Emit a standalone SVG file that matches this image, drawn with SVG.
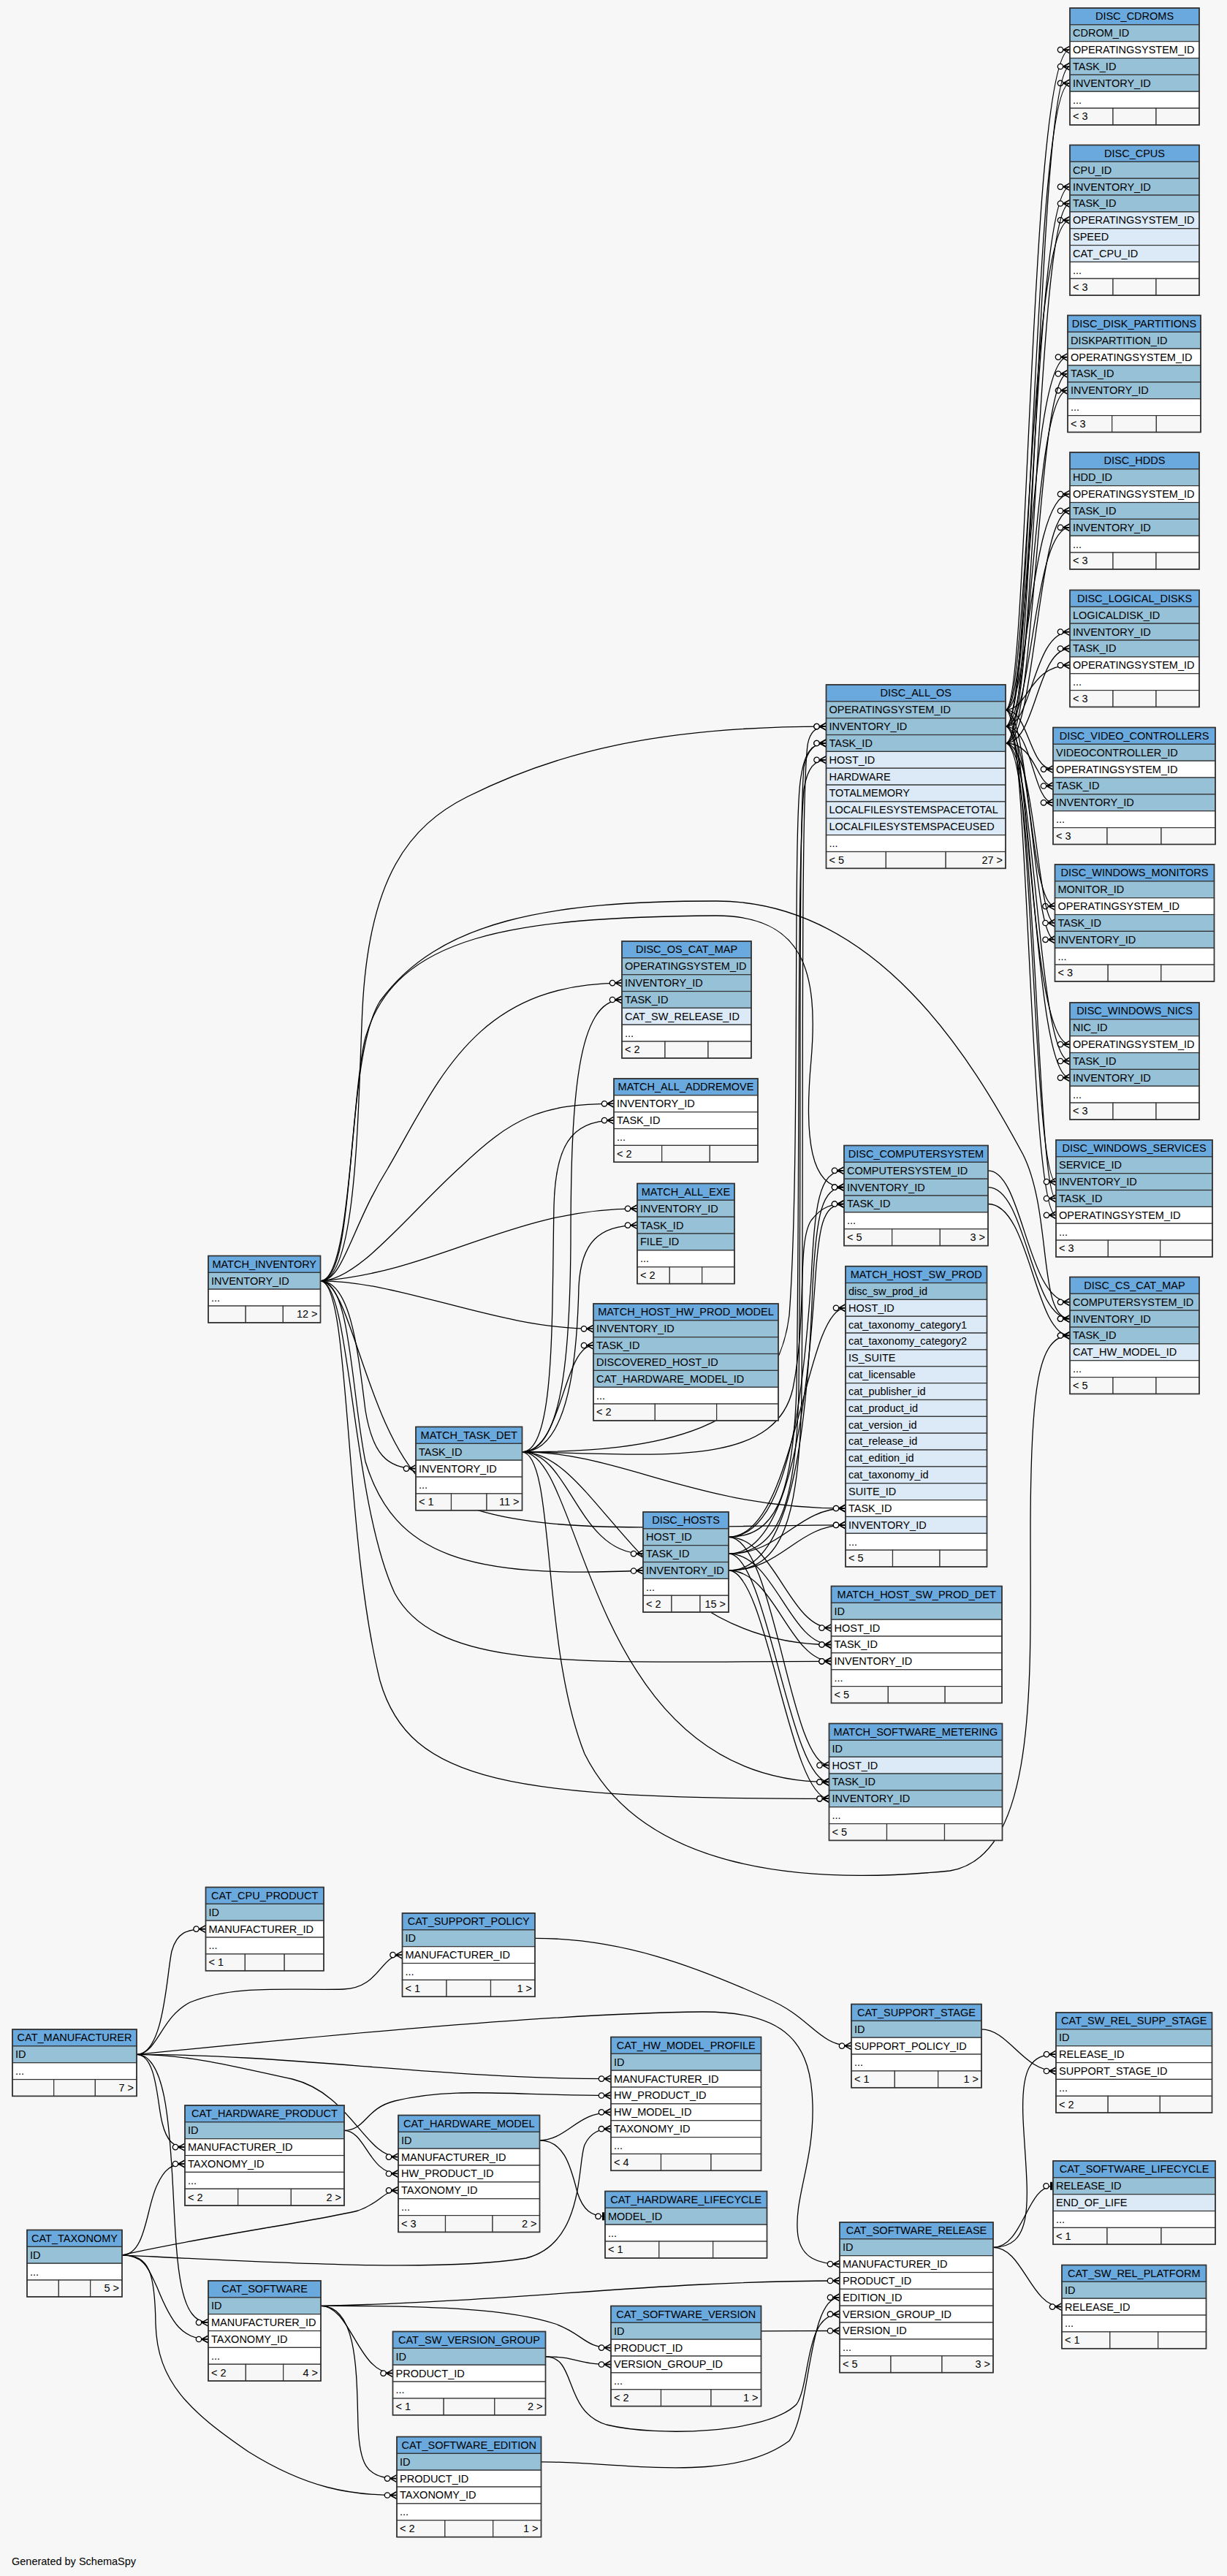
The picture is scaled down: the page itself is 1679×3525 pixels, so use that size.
<svg xmlns="http://www.w3.org/2000/svg" width="1679" height="3525" viewBox="0 0 1679 3525">
<style>
.h{fill:#6aa9de;stroke:#333;stroke-width:1.2}
.k{fill:#97c1d7;stroke:#333;stroke-width:1.2}
.l{fill:#dbeaf6;stroke:#333;stroke-width:1.2}
.w{fill:#ffffff;stroke:#333;stroke-width:1.2}
.f{fill:#f7f7f7;stroke:#333;stroke-width:1.2}
.o{fill:none;stroke:#333;stroke-width:1.6}
text{font-family:"Liberation Sans",Arial,Helvetica,sans-serif;font-size:14.5px;fill:#000}
.c{text-anchor:middle}
.r{text-anchor:end}
.e{fill:none;stroke:#000;stroke-width:1.3;marker-end:url(#crow)}
.et{fill:none;stroke:#000;stroke-width:1.3;marker-end:url(#tee)}
</style>
<defs>
<marker id="crow" viewBox="-18 -8 20 16" markerWidth="20" markerHeight="16" refX="0" refY="0" orient="auto" markerUnits="userSpaceOnUse">
<path d="M-9,0 L0,-5 M-9,0 L0,5 M-9,0 L0,0" fill="none" stroke="#000" stroke-width="1.6"/>
<circle cx="-13" cy="0" r="3.7" fill="#fff" stroke="#000" stroke-width="1.3"/>
</marker>
<marker id="tee" viewBox="-18 -8 20 16" markerWidth="20" markerHeight="16" refX="0" refY="0" orient="auto" markerUnits="userSpaceOnUse">
<path d="M-2.5,-5.5 L-2.5,5.5" fill="none" stroke="#000" stroke-width="3"/>
<circle cx="-9.5" cy="0" r="3.7" fill="#fff" stroke="#000" stroke-width="1.3"/>
</marker>
</defs>
<rect width="1679" height="3525" fill="#f7f7f7"/>

<g id="connectors">
<!-- DISC_ALL_OS.OPERATINGSYSTEM_ID -->
<path class="e" d="M1376,971.3 C1408,971.3 1408,68.1 1464,68.1"/>
<path class="e" d="M1376,971.3 C1408,971.3 1408,301.3 1464,301.3"/>
<path class="e" d="M1376,971.3 C1408,971.3 1408,488.6 1461,488.6"/>
<path class="e" d="M1376,971.3 C1408,971.3 1408,676.1 1464,676.1"/>
<path class="e" d="M1376,971.3 C1408,971.3 1408,910.3 1464,910.3"/>
<path class="e" d="M1376,971.3 C1408,971.3 1408,1052.6 1441,1052.6"/>
<path class="e" d="M1376,971.3 C1408,971.3 1408,1240.1 1443.5,1240.1"/>
<path class="e" d="M1376,971.3 C1408,971.3 1408,1429.1 1464,1429.1"/>
<path class="e" d="M1376,971.3 C1408,971.3 1408,1662.8 1445,1662.8"/>
<!-- DISC_ALL_OS.INVENTORY_ID -->
<path class="e" d="M1376,994.1 C1413,994.1 1413,113.8 1464,113.8"/>
<path class="e" d="M1376,994.1 C1413,994.1 1413,255.6 1464,255.6"/>
<path class="e" d="M1376,994.1 C1413,994.1 1413,534.3 1461,534.3"/>
<path class="e" d="M1376,994.1 C1413,994.1 1413,721.8 1464,721.8"/>
<path class="e" d="M1376,994.1 C1413,994.1 1413,864.6 1464,864.6"/>
<path class="e" d="M1376,994.1 C1413,994.1 1413,1098.3 1441,1098.3"/>
<path class="e" d="M1376,994.1 C1413,994.1 1413,1285.8 1443.5,1285.8"/>
<path class="e" d="M1376,994.1 C1413,994.1 1413,1474.8 1464,1474.8"/>
<path class="e" d="M1376,994.1 C1413,994.1 1413,1617.1 1445,1617.1"/>
<!-- DISC_ALL_OS.TASK_ID -->
<path class="e" d="M1376,1017 C1418,1017 1418,91 1464,91"/>
<path class="e" d="M1376,1017 C1418,1017 1418,278.5 1464,278.5"/>
<path class="e" d="M1376,1017 C1418,1017 1418,511.5 1461,511.5"/>
<path class="e" d="M1376,1017 C1418,1017 1418,699 1464,699"/>
<path class="e" d="M1376,1017 C1418,1017 1418,887.5 1464,887.5"/>
<path class="e" d="M1376,1017 C1418,1017 1418,1075.5 1441,1075.5"/>
<path class="e" d="M1376,1017 C1418,1017 1418,1263 1443.5,1263"/>
<path class="e" d="M1376,1017 C1418,1017 1418,1452 1464,1452"/>
<path class="e" d="M1376,1017 C1418,1017 1418,1640 1445,1640"/>
<!-- MATCH_INVENTORY.INVENTORY_ID -->
<path class="e" d="M438.5,1752.8 C490,1752.8 490,1500 496,1380 C505,1200 560,1130 640,1090 C760,1030 900,994.1 1130.5,994.1"/>
<path class="e" d="M438.5,1752.8 C470,1752.8 480,1680 530,1600 C600,1480 650,1345.1 851,1345.1"/>
<path class="e" d="M438.5,1752.8 C490,1752.8 560,1660 630,1597 C700,1530 740,1510.3 840,1510.3"/>
<path class="e" d="M438.5,1752.8 C600,1740 700,1653.8 872,1653.8"/>
<path class="e" d="M438.5,1752.8 C550,1752.8 680,1818.3 812,1818.3"/>
<path class="e" d="M438.5,1752.8 C480,1752.8 490,1850 500,1930 C510,1990 530,2009.6 569,2009.6"/>
<path class="e" d="M438.5,1752.8 C480,1752.8 480,1900 500,2000 C540,2130 640,2160 880,2149"/>
<path class="e" d="M438.5,1752.8 C480,1752.8 480,1500 500,1420 C540,1280 700,1255 980,1253 C1100,1253 1120,1330 1110,1450 C1100,1560 1110,1624.6 1155,1624.6"/>
<path class="e" d="M438.5,1752.8 C490,1752.8 470,1450 520,1370 C600,1260 750,1233 980,1233 C1200,1233 1330,1450 1400,1580 C1440,1660 1420,1804.6 1464,1804.6"/>
<path class="e" d="M438.5,1752.8 C480,1752.8 500,1950 580,2030 C680,2110 900,2086.9 1157,2086.9"/>
<path class="e" d="M438.5,1752.8 C480,1752.8 480,2050 540,2180 C600,2290 800,2273.3 1137.5,2273.3"/>
<path class="e" d="M438.5,1752.8 C480,1752.8 470,2100 520,2300 C560,2440 700,2461.3 1134.5,2461.3"/>
<!-- MATCH_TASK_DET.TASK_ID -->
<path class="e" d="M714.5,1986.8 C900,1986.8 1060,1960 1080,1800 C1095,1600 1085,1150 1095,1070 C1100,1030 1110,1017 1130.5,1017"/>
<path class="e" d="M714.5,1986.8 C900,1990 1060,2010 1085,1900 C1105,1800 1090,1700 1110,1670 C1125,1650 1140,1647.5 1155,1647.5"/>
<path class="e" d="M714.5,1986.8 C760,1990 740,2250 800,2400 C880,2560 1100,2580 1300,2560 C1420,2540 1410,2300 1410,2100 C1410,1900 1420,1827.5 1464,1827.5"/>
<path class="e" d="M714.5,1986.8 C770,1986.8 780,1850 781,1700 C781,1500 790,1368 851,1368"/>
<path class="e" d="M714.5,1986.8 C760,1986.8 755,1800 758,1650 C760,1570 780,1533.1 840,1533.1"/>
<path class="e" d="M714.5,1986.8 C780,1986.8 790,1850 792,1760 C795,1700 820,1676.6 872,1676.6"/>
<path class="e" d="M714.5,1986.8 C770,1986.8 770,1841.1 812,1841.1"/>
<path class="e" d="M714.5,1986.8 C780,1986.8 790,2126.1 880,2126.1"/>
<path class="e" d="M714.5,1986.8 C850,1986.8 950,2064 1157,2064"/>
<path class="e" d="M714.5,1986.8 C820,1986.8 880,2250.5 1137.5,2250.5"/>
<path class="e" d="M714.5,1986.8 C800,1986.8 800,2438.5 1134.5,2438.5"/>
<!-- DISC_HOSTS -->
<path class="e" d="M997,2103.3 C1060,2103.3 1085,2050 1090,1900 C1095,1600 1090,1200 1100,1080 C1105,1050 1115,1039.8 1130.5,1039.8"/>
<path class="e" d="M997,2126.1 C1065,2126.1 1090,2060 1093,1900 C1097,1600 1092,1150 1100,1050 C1105,1025 1115,1017 1130.5,1017"/>
<path class="e" d="M997,2149 C1070,2149 1095,2080 1097,1900 C1100,1600 1095,1100 1105,1020 C1108,1000 1118,994.1 1130.5,994.1"/>
<path class="e" d="M997,2103.3 C1080,2103.3 1100,1900 1110,1750 C1115,1650 1120,1601.8 1155,1601.8"/>
<path class="e" d="M997,2126.1 C1085,2126.1 1105,1900 1115,1760 C1120,1680 1125,1647.5 1155,1647.5"/>
<path class="e" d="M997,2149 C1085,2149 1105,1950 1112,1760 C1117,1660 1125,1624.6 1155,1624.6"/>
<path class="e" d="M997,2103.3 C1090,2103.3 1100,1789.8 1157,1789.8"/>
<path class="e" d="M997,2126.1 C1070,2126.1 1090,2064 1157,2064"/>
<path class="e" d="M997,2149 C1070,2149 1090,2086.9 1157,2086.9"/>
<path class="e" d="M997,2103.3 C1060,2103.3 1080,2227.6 1137.5,2227.6"/>
<path class="e" d="M997,2126.1 C1060,2126.1 1080,2250.5 1137.5,2250.5"/>
<path class="e" d="M997,2149 C1060,2149 1080,2273.3 1137.5,2273.3"/>
<path class="e" d="M997,2103.3 C1060,2103.3 1080,2415.6 1134.5,2415.6"/>
<path class="e" d="M997,2126.1 C1050,2126.1 1080,2438.5 1134.5,2438.5"/>
<path class="e" d="M997,2149 C1050,2149 1080,2461.3 1134.5,2461.3"/>
<!-- DISC_COMPUTERSYSTEM -> DISC_CS_CAT_MAP -->
<path class="e" d="M1352,1601.8 C1400,1601.8 1405,1781.8 1464,1781.8"/>
<path class="e" d="M1352,1624.6 C1405,1624.6 1410,1804.6 1464,1804.6"/>
<path class="e" d="M1352,1647.5 C1410,1647.5 1415,1827.5 1464,1827.5"/>
<!-- CAT_MANUFACTURER.ID -->
<path class="e" d="M187,2811.3 C225,2811.3 228,2700 235,2670 C242,2645 255,2639.6 281.5,2639.6"/>
<path class="e" d="M187,2811.3 C215,2811.3 220,2760 260,2740 C320,2715 400,2724 470,2722 C520,2720 520,2675.1 550.5,2675.1"/>
<path class="e" d="M187,2811.3 C400,2811.3 600,2844.6 836,2844.6"/>
<path class="e" d="M187,2811.3 C400,2790 750,2755 960,2753 C1080,2752 1110,2800 1112,2880 C1114,2960 1085,3010 1092,3060 C1097,3090 1120,3098.1 1149,3098.1"/>
<path class="e" d="M187,2811.3 C215,2811.3 215,2880 222,2905 C228,2930 238,2938.1 253,2938.1"/>
<path class="e" d="M187,2811.3 C260,2811.3 330,2830 400,2845 C480,2865 500,2951.6 545,2951.6"/>
<path class="e" d="M187,2811.3 C225,2811.3 232,2900 237,3000 C242,3100 245,3178.1 285,3178.1"/>
<!-- CAT_TAXONOMY.ID -->
<path class="e" d="M167,3085.8 C200,3085.8 200,3020 215,2990 C225,2968 235,2961 253,2961"/>
<path class="e" d="M167,3085.8 C280,3060 430,3040 490,3025 C520,3015 525,2997.3 545,2997.3"/>
<path class="e" d="M167,3085.8 C350,3095 600,3110 720,3090 C800,3070 790,2960 800,2935 C808,2918 820,2913.2 836,2913.2"/>
<path class="e" d="M167,3085.8 C200,3085.8 205,3110 215,3130 C235,3180 250,3201 285,3201"/>
<path class="e" d="M167,3085.8 C205,3085.8 212,3110 213,3180 C215,3260 260,3300 340,3355 C420,3405 480,3414.5 543,3414.5"/>
<!-- CAT_HARDWARE_PRODUCT.ID / CAT_HARDWARE_MODEL.ID -->
<path class="e" d="M471,2915.3 C500,2915.3 500,2885 540,2875 C620,2855 700,2867.5 836,2867.5"/>
<path class="e" d="M471,2915.3 C500,2915.3 505,2974.5 545,2974.5"/>
<path class="e" d="M738.5,2928.8 C775,2928.8 790,2890.3 836,2890.3"/>
<path class="et" d="M738.5,2928.8 C770,2928.8 780,2960 790,3000 C798,3025 810,3032.8 828,3032.8"/>
<!-- support policy / stage -->
<path class="e" d="M732,2652.3 C850,2652.3 950,2690 1050,2735 C1110,2760 1120,2799.6 1165,2799.6"/>
<path class="e" d="M1343,2776.8 C1380,2776.8 1400,2834 1445,2834"/>
<!-- CAT_SOFTWARE_RELEASE.ID -->
<path class="e" d="M1359,3075.3 C1420,3075.3 1405,3000 1400,2900 C1397,2830 1410,2811.1 1445,2811.1"/>
<path class="et" d="M1359,3075.3 C1400,3075.3 1405,2991.3 1441,2991.3"/>
<path class="e" d="M1359,3075.3 C1400,3075.3 1410,3156.6 1453,3156.6"/>
<!-- CAT_SOFTWARE.ID -->
<path class="e" d="M439,3155.3 C700,3150 900,3121 1149,3121"/>
<path class="e" d="M439,3155.3 C480,3155.3 490,3247.6 537.5,3247.6"/>
<path class="e" d="M439,3155.3 C490,3155.3 488,3250 490,3320 C492,3370 500,3391.6 543,3391.6"/>
<path class="e" d="M439,3155.3 C600,3155 700,3160 760,3180 C800,3195 800,3212.6 836,3212.6"/>
<!-- version group / edition / version -->
<path class="e" d="M746.5,3224.8 C790,3224.8 790,3235.5 836,3235.5"/>
<path class="e" d="M746.5,3224.8 C790,3224.8 770,3300 830,3318 C900,3335 1050,3330 1090,3290 C1110,3260 1100,3166.7 1149,3166.7"/>
<path class="e" d="M740.5,3368.8 C850,3368.8 1000,3400 1080,3340 C1110,3300 1105,3143.8 1149,3143.8"/>
<path class="e" d="M1041.5,3189.8 C1090,3189.8 1100,3189.5 1149,3189.5"/>
</g>

<g id="DISC_CDROMS" transform="translate(1464,11)">
<rect class="h" width="177" height="22.85"/><text class="c" x="88.5" y="16.3">DISC_CDROMS</text>
<rect class="k" y="22.85" width="177" height="22.85"/><text x="4" y="39.15">CDROM_ID</text>
<rect class="w" y="45.7" width="177" height="22.85"/><text x="4" y="62">OPERATINGSYSTEM_ID</text>
<rect class="k" y="68.55" width="177" height="22.85"/><text x="4" y="84.85">TASK_ID</text>
<rect class="k" y="91.4" width="177" height="22.85"/><text x="4" y="107.7">INVENTORY_ID</text>
<rect class="w" y="114.25" width="177" height="22.85"/><text x="4" y="130.55">...</text>
<rect class="f" y="137.1" width="59" height="22.85"/><rect class="f" x="59" y="137.1" width="59" height="22.85"/><rect class="f" x="118" y="137.1" width="59" height="22.85"/><text x="4" y="153.4">&lt; 3</text>
<rect class="o" width="177" height="159.95"/>
</g>

<g id="DISC_CPUS" transform="translate(1464,198.5)">
<rect class="h" width="177" height="22.85"/><text class="c" x="88.5" y="16.3">DISC_CPUS</text>
<rect class="k" y="22.85" width="177" height="22.85"/><text x="4" y="39.15">CPU_ID</text>
<rect class="k" y="45.7" width="177" height="22.85"/><text x="4" y="62">INVENTORY_ID</text>
<rect class="k" y="68.55" width="177" height="22.85"/><text x="4" y="84.85">TASK_ID</text>
<rect class="l" y="91.4" width="177" height="22.85"/><text x="4" y="107.7">OPERATINGSYSTEM_ID</text>
<rect class="l" y="114.25" width="177" height="22.85"/><text x="4" y="130.55">SPEED</text>
<rect class="l" y="137.1" width="177" height="22.85"/><text x="4" y="153.4">CAT_CPU_ID</text>
<rect class="w" y="159.95" width="177" height="22.85"/><text x="4" y="176.25">...</text>
<rect class="f" y="182.8" width="59" height="22.85"/><rect class="f" x="59" y="182.8" width="59" height="22.85"/><rect class="f" x="118" y="182.8" width="59" height="22.85"/><text x="4" y="199.1">&lt; 3</text>
<rect class="o" width="177" height="205.65"/>
</g>

<g id="DISC_DISK_PARTITIONS" transform="translate(1461,431.5)">
<rect class="h" width="182" height="22.85"/><text class="c" x="91" y="16.3">DISC_DISK_PARTITIONS</text>
<rect class="k" y="22.85" width="182" height="22.85"/><text x="4" y="39.15">DISKPARTITION_ID</text>
<rect class="w" y="45.7" width="182" height="22.85"/><text x="4" y="62">OPERATINGSYSTEM_ID</text>
<rect class="k" y="68.55" width="182" height="22.85"/><text x="4" y="84.85">TASK_ID</text>
<rect class="k" y="91.4" width="182" height="22.85"/><text x="4" y="107.7">INVENTORY_ID</text>
<rect class="w" y="114.25" width="182" height="22.85"/><text x="4" y="130.55">...</text>
<rect class="f" y="137.1" width="60.67" height="22.85"/><rect class="f" x="60.67" y="137.1" width="60.67" height="22.85"/><rect class="f" x="121.33" y="137.1" width="60.67" height="22.85"/><text x="4" y="153.4">&lt; 3</text>
<rect class="o" width="182" height="159.95"/>
</g>

<g id="DISC_HDDS" transform="translate(1464,619)">
<rect class="h" width="177" height="22.85"/><text class="c" x="88.5" y="16.3">DISC_HDDS</text>
<rect class="k" y="22.85" width="177" height="22.85"/><text x="4" y="39.15">HDD_ID</text>
<rect class="w" y="45.7" width="177" height="22.85"/><text x="4" y="62">OPERATINGSYSTEM_ID</text>
<rect class="k" y="68.55" width="177" height="22.85"/><text x="4" y="84.85">TASK_ID</text>
<rect class="k" y="91.4" width="177" height="22.85"/><text x="4" y="107.7">INVENTORY_ID</text>
<rect class="w" y="114.25" width="177" height="22.85"/><text x="4" y="130.55">...</text>
<rect class="f" y="137.1" width="59" height="22.85"/><rect class="f" x="59" y="137.1" width="59" height="22.85"/><rect class="f" x="118" y="137.1" width="59" height="22.85"/><text x="4" y="153.4">&lt; 3</text>
<rect class="o" width="177" height="159.95"/>
</g>

<g id="DISC_LOGICAL_DISKS" transform="translate(1464,807.5)">
<rect class="h" width="177" height="22.85"/><text class="c" x="88.5" y="16.3">DISC_LOGICAL_DISKS</text>
<rect class="k" y="22.85" width="177" height="22.85"/><text x="4" y="39.15">LOGICALDISK_ID</text>
<rect class="k" y="45.7" width="177" height="22.85"/><text x="4" y="62">INVENTORY_ID</text>
<rect class="k" y="68.55" width="177" height="22.85"/><text x="4" y="84.85">TASK_ID</text>
<rect class="w" y="91.4" width="177" height="22.85"/><text x="4" y="107.7">OPERATINGSYSTEM_ID</text>
<rect class="w" y="114.25" width="177" height="22.85"/><text x="4" y="130.55">...</text>
<rect class="f" y="137.1" width="59" height="22.85"/><rect class="f" x="59" y="137.1" width="59" height="22.85"/><rect class="f" x="118" y="137.1" width="59" height="22.85"/><text x="4" y="153.4">&lt; 3</text>
<rect class="o" width="177" height="159.95"/>
</g>

<g id="DISC_ALL_OS" transform="translate(1130.5,937)">
<rect class="h" width="245.5" height="22.85"/><text class="c" x="122.75" y="16.3">DISC_ALL_OS</text>
<rect class="k" y="22.85" width="245.5" height="22.85"/><text x="4" y="39.15">OPERATINGSYSTEM_ID</text>
<rect class="k" y="45.7" width="245.5" height="22.85"/><text x="4" y="62">INVENTORY_ID</text>
<rect class="k" y="68.55" width="245.5" height="22.85"/><text x="4" y="84.85">TASK_ID</text>
<rect class="l" y="91.4" width="245.5" height="22.85"/><text x="4" y="107.7">HOST_ID</text>
<rect class="l" y="114.25" width="245.5" height="22.85"/><text x="4" y="130.55">HARDWARE</text>
<rect class="l" y="137.1" width="245.5" height="22.85"/><text x="4" y="153.4">TOTALMEMORY</text>
<rect class="l" y="159.95" width="245.5" height="22.85"/><text x="4" y="176.25">LOCALFILESYSTEMSPACETOTAL</text>
<rect class="l" y="182.8" width="245.5" height="22.85"/><text x="4" y="199.1">LOCALFILESYSTEMSPACEUSED</text>
<rect class="w" y="205.65" width="245.5" height="22.85"/><text x="4" y="221.95">...</text>
<rect class="f" y="228.5" width="81.83" height="22.85"/><rect class="f" x="81.83" y="228.5" width="81.83" height="22.85"/><rect class="f" x="163.67" y="228.5" width="81.83" height="22.85"/><text x="4" y="244.8">&lt; 5</text><text class="r" x="241.5" y="244.8">27 &gt;</text>
<rect class="o" width="245.5" height="251.35"/>
</g>

<g id="DISC_VIDEO_CONTROLLERS" transform="translate(1441,995.5)">
<rect class="h" width="222" height="22.85"/><text class="c" x="111" y="16.3">DISC_VIDEO_CONTROLLERS</text>
<rect class="k" y="22.85" width="222" height="22.85"/><text x="4" y="39.15">VIDEOCONTROLLER_ID</text>
<rect class="w" y="45.7" width="222" height="22.85"/><text x="4" y="62">OPERATINGSYSTEM_ID</text>
<rect class="k" y="68.55" width="222" height="22.85"/><text x="4" y="84.85">TASK_ID</text>
<rect class="k" y="91.4" width="222" height="22.85"/><text x="4" y="107.7">INVENTORY_ID</text>
<rect class="w" y="114.25" width="222" height="22.85"/><text x="4" y="130.55">...</text>
<rect class="f" y="137.1" width="74" height="22.85"/><rect class="f" x="74" y="137.1" width="74" height="22.85"/><rect class="f" x="148" y="137.1" width="74" height="22.85"/><text x="4" y="153.4">&lt; 3</text>
<rect class="o" width="222" height="159.95"/>
</g>

<g id="DISC_WINDOWS_MONITORS" transform="translate(1443.5,1183)">
<rect class="h" width="218" height="22.85"/><text class="c" x="109" y="16.3">DISC_WINDOWS_MONITORS</text>
<rect class="k" y="22.85" width="218" height="22.85"/><text x="4" y="39.15">MONITOR_ID</text>
<rect class="w" y="45.7" width="218" height="22.85"/><text x="4" y="62">OPERATINGSYSTEM_ID</text>
<rect class="k" y="68.55" width="218" height="22.85"/><text x="4" y="84.85">TASK_ID</text>
<rect class="k" y="91.4" width="218" height="22.85"/><text x="4" y="107.7">INVENTORY_ID</text>
<rect class="w" y="114.25" width="218" height="22.85"/><text x="4" y="130.55">...</text>
<rect class="f" y="137.1" width="72.67" height="22.85"/><rect class="f" x="72.67" y="137.1" width="72.67" height="22.85"/><rect class="f" x="145.33" y="137.1" width="72.67" height="22.85"/><text x="4" y="153.4">&lt; 3</text>
<rect class="o" width="218" height="159.95"/>
</g>

<g id="DISC_WINDOWS_NICS" transform="translate(1464,1372)">
<rect class="h" width="177" height="22.85"/><text class="c" x="88.5" y="16.3">DISC_WINDOWS_NICS</text>
<rect class="k" y="22.85" width="177" height="22.85"/><text x="4" y="39.15">NIC_ID</text>
<rect class="w" y="45.7" width="177" height="22.85"/><text x="4" y="62">OPERATINGSYSTEM_ID</text>
<rect class="k" y="68.55" width="177" height="22.85"/><text x="4" y="84.85">TASK_ID</text>
<rect class="k" y="91.4" width="177" height="22.85"/><text x="4" y="107.7">INVENTORY_ID</text>
<rect class="w" y="114.25" width="177" height="22.85"/><text x="4" y="130.55">...</text>
<rect class="f" y="137.1" width="59" height="22.85"/><rect class="f" x="59" y="137.1" width="59" height="22.85"/><rect class="f" x="118" y="137.1" width="59" height="22.85"/><text x="4" y="153.4">&lt; 3</text>
<rect class="o" width="177" height="159.95"/>
</g>

<g id="DISC_WINDOWS_SERVICES" transform="translate(1445,1560)">
<rect class="h" width="214" height="22.85"/><text class="c" x="107" y="16.3">DISC_WINDOWS_SERVICES</text>
<rect class="k" y="22.85" width="214" height="22.85"/><text x="4" y="39.15">SERVICE_ID</text>
<rect class="k" y="45.7" width="214" height="22.85"/><text x="4" y="62">INVENTORY_ID</text>
<rect class="k" y="68.55" width="214" height="22.85"/><text x="4" y="84.85">TASK_ID</text>
<rect class="w" y="91.4" width="214" height="22.85"/><text x="4" y="107.7">OPERATINGSYSTEM_ID</text>
<rect class="w" y="114.25" width="214" height="22.85"/><text x="4" y="130.55">...</text>
<rect class="f" y="137.1" width="71.33" height="22.85"/><rect class="f" x="71.33" y="137.1" width="71.33" height="22.85"/><rect class="f" x="142.67" y="137.1" width="71.33" height="22.85"/><text x="4" y="153.4">&lt; 3</text>
<rect class="o" width="214" height="159.95"/>
</g>

<g id="DISC_CS_CAT_MAP" transform="translate(1464,1747.5)">
<rect class="h" width="177" height="22.85"/><text class="c" x="88.5" y="16.3">DISC_CS_CAT_MAP</text>
<rect class="k" y="22.85" width="177" height="22.85"/><text x="4" y="39.15">COMPUTERSYSTEM_ID</text>
<rect class="k" y="45.7" width="177" height="22.85"/><text x="4" y="62">INVENTORY_ID</text>
<rect class="k" y="68.55" width="177" height="22.85"/><text x="4" y="84.85">TASK_ID</text>
<rect class="l" y="91.4" width="177" height="22.85"/><text x="4" y="107.7">CAT_HW_MODEL_ID</text>
<rect class="w" y="114.25" width="177" height="22.85"/><text x="4" y="130.55">...</text>
<rect class="f" y="137.1" width="59" height="22.85"/><rect class="f" x="59" y="137.1" width="59" height="22.85"/><rect class="f" x="118" y="137.1" width="59" height="22.85"/><text x="4" y="153.4">&lt; 5</text>
<rect class="o" width="177" height="159.95"/>
</g>

<g id="DISC_COMPUTERSYSTEM" transform="translate(1155,1567.5)">
<rect class="h" width="197" height="22.85"/><text class="c" x="98.5" y="16.3">DISC_COMPUTERSYSTEM</text>
<rect class="k" y="22.85" width="197" height="22.85"/><text x="4" y="39.15">COMPUTERSYSTEM_ID</text>
<rect class="k" y="45.7" width="197" height="22.85"/><text x="4" y="62">INVENTORY_ID</text>
<rect class="k" y="68.55" width="197" height="22.85"/><text x="4" y="84.85">TASK_ID</text>
<rect class="w" y="91.4" width="197" height="22.85"/><text x="4" y="107.7">...</text>
<rect class="f" y="114.25" width="65.67" height="22.85"/><rect class="f" x="65.67" y="114.25" width="65.67" height="22.85"/><rect class="f" x="131.33" y="114.25" width="65.67" height="22.85"/><text x="4" y="130.55">&lt; 5</text><text class="r" x="193" y="130.55">3 &gt;</text>
<rect class="o" width="197" height="137.1"/>
</g>

<g id="MATCH_HOST_SW_PROD" transform="translate(1157,1732.7)">
<rect class="h" width="193.5" height="22.85"/><text class="c" x="96.75" y="16.3">MATCH_HOST_SW_PROD</text>
<rect class="k" y="22.85" width="193.5" height="22.85"/><text x="4" y="39.15">disc_sw_prod_id</text>
<rect class="l" y="45.7" width="193.5" height="22.85"/><text x="4" y="62">HOST_ID</text>
<rect class="l" y="68.55" width="193.5" height="22.85"/><text x="4" y="84.85">cat_taxonomy_category1</text>
<rect class="l" y="91.4" width="193.5" height="22.85"/><text x="4" y="107.7">cat_taxonomy_category2</text>
<rect class="l" y="114.25" width="193.5" height="22.85"/><text x="4" y="130.55">IS_SUITE</text>
<rect class="l" y="137.1" width="193.5" height="22.85"/><text x="4" y="153.4">cat_licensable</text>
<rect class="l" y="159.95" width="193.5" height="22.85"/><text x="4" y="176.25">cat_publisher_id</text>
<rect class="l" y="182.8" width="193.5" height="22.85"/><text x="4" y="199.1">cat_product_id</text>
<rect class="l" y="205.65" width="193.5" height="22.85"/><text x="4" y="221.95">cat_version_id</text>
<rect class="l" y="228.5" width="193.5" height="22.85"/><text x="4" y="244.8">cat_release_id</text>
<rect class="l" y="251.35" width="193.5" height="22.85"/><text x="4" y="267.65">cat_edition_id</text>
<rect class="l" y="274.2" width="193.5" height="22.85"/><text x="4" y="290.5">cat_taxonomy_id</text>
<rect class="l" y="297.05" width="193.5" height="22.85"/><text x="4" y="313.35">SUITE_ID</text>
<rect class="w" y="319.9" width="193.5" height="22.85"/><text x="4" y="336.2">TASK_ID</text>
<rect class="l" y="342.75" width="193.5" height="22.85"/><text x="4" y="359.05">INVENTORY_ID</text>
<rect class="w" y="365.6" width="193.5" height="22.85"/><text x="4" y="381.9">...</text>
<rect class="f" y="388.45" width="64.5" height="22.85"/><rect class="f" x="64.5" y="388.45" width="64.5" height="22.85"/><rect class="f" x="129" y="388.45" width="64.5" height="22.85"/><text x="4" y="404.75">&lt; 5</text>
<rect class="o" width="193.5" height="411.3"/>
</g>

<g id="MATCH_HOST_SW_PROD_DET" transform="translate(1137.5,2170.5)">
<rect class="h" width="233.5" height="22.85"/><text class="c" x="116.75" y="16.3">MATCH_HOST_SW_PROD_DET</text>
<rect class="k" y="22.85" width="233.5" height="22.85"/><text x="4" y="39.15">ID</text>
<rect class="w" y="45.7" width="233.5" height="22.85"/><text x="4" y="62">HOST_ID</text>
<rect class="w" y="68.55" width="233.5" height="22.85"/><text x="4" y="84.85">TASK_ID</text>
<rect class="w" y="91.4" width="233.5" height="22.85"/><text x="4" y="107.7">INVENTORY_ID</text>
<rect class="w" y="114.25" width="233.5" height="22.85"/><text x="4" y="130.55">...</text>
<rect class="f" y="137.1" width="77.83" height="22.85"/><rect class="f" x="77.83" y="137.1" width="77.83" height="22.85"/><rect class="f" x="155.67" y="137.1" width="77.83" height="22.85"/><text x="4" y="153.4">&lt; 5</text>
<rect class="o" width="233.5" height="159.95"/>
</g>

<g id="MATCH_SOFTWARE_METERING" transform="translate(1134.5,2358.5)">
<rect class="h" width="237" height="22.85"/><text class="c" x="118.5" y="16.3">MATCH_SOFTWARE_METERING</text>
<rect class="k" y="22.85" width="237" height="22.85"/><text x="4" y="39.15">ID</text>
<rect class="l" y="45.7" width="237" height="22.85"/><text x="4" y="62">HOST_ID</text>
<rect class="k" y="68.55" width="237" height="22.85"/><text x="4" y="84.85">TASK_ID</text>
<rect class="k" y="91.4" width="237" height="22.85"/><text x="4" y="107.7">INVENTORY_ID</text>
<rect class="w" y="114.25" width="237" height="22.85"/><text x="4" y="130.55">...</text>
<rect class="f" y="137.1" width="79" height="22.85"/><rect class="f" x="79" y="137.1" width="79" height="22.85"/><rect class="f" x="158" y="137.1" width="79" height="22.85"/><text x="4" y="153.4">&lt; 5</text>
<rect class="o" width="237" height="159.95"/>
</g>

<g id="DISC_OS_CAT_MAP" transform="translate(851,1288)">
<rect class="h" width="177" height="22.85"/><text class="c" x="88.5" y="16.3">DISC_OS_CAT_MAP</text>
<rect class="k" y="22.85" width="177" height="22.85"/><text x="4" y="39.15">OPERATINGSYSTEM_ID</text>
<rect class="k" y="45.7" width="177" height="22.85"/><text x="4" y="62">INVENTORY_ID</text>
<rect class="k" y="68.55" width="177" height="22.85"/><text x="4" y="84.85">TASK_ID</text>
<rect class="l" y="91.4" width="177" height="22.85"/><text x="4" y="107.7">CAT_SW_RELEASE_ID</text>
<rect class="w" y="114.25" width="177" height="22.85"/><text x="4" y="130.55">...</text>
<rect class="f" y="137.1" width="59" height="22.85"/><rect class="f" x="59" y="137.1" width="59" height="22.85"/><rect class="f" x="118" y="137.1" width="59" height="22.85"/><text x="4" y="153.4">&lt; 2</text>
<rect class="o" width="177" height="159.95"/>
</g>

<g id="MATCH_ALL_ADDREMOVE" transform="translate(840,1476)">
<rect class="h" width="197" height="22.85"/><text class="c" x="98.5" y="16.3">MATCH_ALL_ADDREMOVE</text>
<rect class="w" y="22.85" width="197" height="22.85"/><text x="4" y="39.15">INVENTORY_ID</text>
<rect class="w" y="45.7" width="197" height="22.85"/><text x="4" y="62">TASK_ID</text>
<rect class="w" y="68.55" width="197" height="22.85"/><text x="4" y="84.85">...</text>
<rect class="f" y="91.4" width="65.67" height="22.85"/><rect class="f" x="65.67" y="91.4" width="65.67" height="22.85"/><rect class="f" x="131.33" y="91.4" width="65.67" height="22.85"/><text x="4" y="107.7">&lt; 2</text>
<rect class="o" width="197" height="114.25"/>
</g>

<g id="MATCH_ALL_EXE" transform="translate(872,1619.5)">
<rect class="h" width="133" height="22.85"/><text class="c" x="66.5" y="16.3">MATCH_ALL_EXE</text>
<rect class="k" y="22.85" width="133" height="22.85"/><text x="4" y="39.15">INVENTORY_ID</text>
<rect class="k" y="45.7" width="133" height="22.85"/><text x="4" y="62">TASK_ID</text>
<rect class="k" y="68.55" width="133" height="22.85"/><text x="4" y="84.85">FILE_ID</text>
<rect class="w" y="91.4" width="133" height="22.85"/><text x="4" y="107.7">...</text>
<rect class="f" y="114.25" width="44.33" height="22.85"/><rect class="f" x="44.33" y="114.25" width="44.33" height="22.85"/><rect class="f" x="88.67" y="114.25" width="44.33" height="22.85"/><text x="4" y="130.55">&lt; 2</text>
<rect class="o" width="133" height="137.1"/>
</g>

<g id="MATCH_INVENTORY" transform="translate(285,1718.5)">
<rect class="h" width="153.5" height="22.85"/><text class="c" x="76.75" y="16.3">MATCH_INVENTORY</text>
<rect class="k" y="22.85" width="153.5" height="22.85"/><text x="4" y="39.15">INVENTORY_ID</text>
<rect class="w" y="45.7" width="153.5" height="22.85"/><text x="4" y="62">...</text>
<rect class="f" y="68.55" width="51.17" height="22.85"/><rect class="f" x="51.17" y="68.55" width="51.17" height="22.85"/><rect class="f" x="102.33" y="68.55" width="51.17" height="22.85"/><text class="r" x="149.5" y="84.85">12 &gt;</text>
<rect class="o" width="153.5" height="91.4"/>
</g>

<g id="MATCH_HOST_HW_PROD_MODEL" transform="translate(812,1784)">
<rect class="h" width="253" height="22.85"/><text class="c" x="126.5" y="16.3">MATCH_HOST_HW_PROD_MODEL</text>
<rect class="k" y="22.85" width="253" height="22.85"/><text x="4" y="39.15">INVENTORY_ID</text>
<rect class="k" y="45.7" width="253" height="22.85"/><text x="4" y="62">TASK_ID</text>
<rect class="k" y="68.55" width="253" height="22.85"/><text x="4" y="84.85">DISCOVERED_HOST_ID</text>
<rect class="k" y="91.4" width="253" height="22.85"/><text x="4" y="107.7">CAT_HARDWARE_MODEL_ID</text>
<rect class="w" y="114.25" width="253" height="22.85"/><text x="4" y="130.55">...</text>
<rect class="f" y="137.1" width="84.33" height="22.85"/><rect class="f" x="84.33" y="137.1" width="84.33" height="22.85"/><rect class="f" x="168.67" y="137.1" width="84.33" height="22.85"/><text x="4" y="153.4">&lt; 2</text>
<rect class="o" width="253" height="159.95"/>
</g>

<g id="MATCH_TASK_DET" transform="translate(569,1952.5)">
<rect class="h" width="145.5" height="22.85"/><text class="c" x="72.75" y="16.3">MATCH_TASK_DET</text>
<rect class="k" y="22.85" width="145.5" height="22.85"/><text x="4" y="39.15">TASK_ID</text>
<rect class="w" y="45.7" width="145.5" height="22.85"/><text x="4" y="62">INVENTORY_ID</text>
<rect class="w" y="68.55" width="145.5" height="22.85"/><text x="4" y="84.85">...</text>
<rect class="f" y="91.4" width="48.5" height="22.85"/><rect class="f" x="48.5" y="91.4" width="48.5" height="22.85"/><rect class="f" x="97" y="91.4" width="48.5" height="22.85"/><text x="4" y="107.7">&lt; 1</text><text class="r" x="141.5" y="107.7">11 &gt;</text>
<rect class="o" width="145.5" height="114.25"/>
</g>

<g id="DISC_HOSTS" transform="translate(880,2069)">
<rect class="h" width="117" height="22.85"/><text class="c" x="58.5" y="16.3">DISC_HOSTS</text>
<rect class="k" y="22.85" width="117" height="22.85"/><text x="4" y="39.15">HOST_ID</text>
<rect class="k" y="45.7" width="117" height="22.85"/><text x="4" y="62">TASK_ID</text>
<rect class="k" y="68.55" width="117" height="22.85"/><text x="4" y="84.85">INVENTORY_ID</text>
<rect class="w" y="91.4" width="117" height="22.85"/><text x="4" y="107.7">...</text>
<rect class="f" y="114.25" width="39" height="22.85"/><rect class="f" x="39" y="114.25" width="39" height="22.85"/><rect class="f" x="78" y="114.25" width="39" height="22.85"/><text x="4" y="130.55">&lt; 2</text><text class="r" x="113" y="130.55">15 &gt;</text>
<rect class="o" width="117" height="137.1"/>
</g>

<g id="CAT_CPU_PRODUCT" transform="translate(281.5,2582.5)">
<rect class="h" width="161.5" height="22.85"/><text class="c" x="80.75" y="16.3">CAT_CPU_PRODUCT</text>
<rect class="k" y="22.85" width="161.5" height="22.85"/><text x="4" y="39.15">ID</text>
<rect class="w" y="45.7" width="161.5" height="22.85"/><text x="4" y="62">MANUFACTURER_ID</text>
<rect class="w" y="68.55" width="161.5" height="22.85"/><text x="4" y="84.85">...</text>
<rect class="f" y="91.4" width="53.83" height="22.85"/><rect class="f" x="53.83" y="91.4" width="53.83" height="22.85"/><rect class="f" x="107.67" y="91.4" width="53.83" height="22.85"/><text x="4" y="107.7">&lt; 1</text>
<rect class="o" width="161.5" height="114.25"/>
</g>

<g id="CAT_SUPPORT_POLICY" transform="translate(550.5,2618)">
<rect class="h" width="181.5" height="22.85"/><text class="c" x="90.75" y="16.3">CAT_SUPPORT_POLICY</text>
<rect class="k" y="22.85" width="181.5" height="22.85"/><text x="4" y="39.15">ID</text>
<rect class="w" y="45.7" width="181.5" height="22.85"/><text x="4" y="62">MANUFACTURER_ID</text>
<rect class="w" y="68.55" width="181.5" height="22.85"/><text x="4" y="84.85">...</text>
<rect class="f" y="91.4" width="60.5" height="22.85"/><rect class="f" x="60.5" y="91.4" width="60.5" height="22.85"/><rect class="f" x="121" y="91.4" width="60.5" height="22.85"/><text x="4" y="107.7">&lt; 1</text><text class="r" x="177.5" y="107.7">1 &gt;</text>
<rect class="o" width="181.5" height="114.25"/>
</g>

<g id="CAT_MANUFACTURER" transform="translate(17,2777)">
<rect class="h" width="170" height="22.85"/><text class="c" x="85" y="16.3">CAT_MANUFACTURER</text>
<rect class="k" y="22.85" width="170" height="22.85"/><text x="4" y="39.15">ID</text>
<rect class="w" y="45.7" width="170" height="22.85"/><text x="4" y="62">...</text>
<rect class="f" y="68.55" width="56.67" height="22.85"/><rect class="f" x="56.67" y="68.55" width="56.67" height="22.85"/><rect class="f" x="113.33" y="68.55" width="56.67" height="22.85"/><text class="r" x="166" y="84.85">7 &gt;</text>
<rect class="o" width="170" height="91.4"/>
</g>

<g id="CAT_HARDWARE_PRODUCT" transform="translate(253,2881)">
<rect class="h" width="218" height="22.85"/><text class="c" x="109" y="16.3">CAT_HARDWARE_PRODUCT</text>
<rect class="k" y="22.85" width="218" height="22.85"/><text x="4" y="39.15">ID</text>
<rect class="w" y="45.7" width="218" height="22.85"/><text x="4" y="62">MANUFACTURER_ID</text>
<rect class="w" y="68.55" width="218" height="22.85"/><text x="4" y="84.85">TAXONOMY_ID</text>
<rect class="w" y="91.4" width="218" height="22.85"/><text x="4" y="107.7">...</text>
<rect class="f" y="114.25" width="72.67" height="22.85"/><rect class="f" x="72.67" y="114.25" width="72.67" height="22.85"/><rect class="f" x="145.33" y="114.25" width="72.67" height="22.85"/><text x="4" y="130.55">&lt; 2</text><text class="r" x="214" y="130.55">2 &gt;</text>
<rect class="o" width="218" height="137.1"/>
</g>

<g id="CAT_HW_MODEL_PROFILE" transform="translate(836,2787.5)">
<rect class="h" width="205.5" height="22.85"/><text class="c" x="102.75" y="16.3">CAT_HW_MODEL_PROFILE</text>
<rect class="k" y="22.85" width="205.5" height="22.85"/><text x="4" y="39.15">ID</text>
<rect class="w" y="45.7" width="205.5" height="22.85"/><text x="4" y="62">MANUFACTURER_ID</text>
<rect class="w" y="68.55" width="205.5" height="22.85"/><text x="4" y="84.85">HW_PRODUCT_ID</text>
<rect class="w" y="91.4" width="205.5" height="22.85"/><text x="4" y="107.7">HW_MODEL_ID</text>
<rect class="w" y="114.25" width="205.5" height="22.85"/><text x="4" y="130.55">TAXONOMY_ID</text>
<rect class="w" y="137.1" width="205.5" height="22.85"/><text x="4" y="153.4">...</text>
<rect class="f" y="159.95" width="68.5" height="22.85"/><rect class="f" x="68.5" y="159.95" width="68.5" height="22.85"/><rect class="f" x="137" y="159.95" width="68.5" height="22.85"/><text x="4" y="176.25">&lt; 4</text>
<rect class="o" width="205.5" height="182.8"/>
</g>

<g id="CAT_HARDWARE_MODEL" transform="translate(545,2894.5)">
<rect class="h" width="193.5" height="22.85"/><text class="c" x="96.75" y="16.3">CAT_HARDWARE_MODEL</text>
<rect class="k" y="22.85" width="193.5" height="22.85"/><text x="4" y="39.15">ID</text>
<rect class="w" y="45.7" width="193.5" height="22.85"/><text x="4" y="62">MANUFACTURER_ID</text>
<rect class="w" y="68.55" width="193.5" height="22.85"/><text x="4" y="84.85">HW_PRODUCT_ID</text>
<rect class="w" y="91.4" width="193.5" height="22.85"/><text x="4" y="107.7">TAXONOMY_ID</text>
<rect class="w" y="114.25" width="193.5" height="22.85"/><text x="4" y="130.55">...</text>
<rect class="f" y="137.1" width="64.5" height="22.85"/><rect class="f" x="64.5" y="137.1" width="64.5" height="22.85"/><rect class="f" x="129" y="137.1" width="64.5" height="22.85"/><text x="4" y="153.4">&lt; 3</text><text class="r" x="189.5" y="153.4">2 &gt;</text>
<rect class="o" width="193.5" height="159.95"/>
</g>

<g id="CAT_HARDWARE_LIFECYCLE" transform="translate(828,2998.5)">
<rect class="h" width="221.5" height="22.85"/><text class="c" x="110.75" y="16.3">CAT_HARDWARE_LIFECYCLE</text>
<rect class="k" y="22.85" width="221.5" height="22.85"/><text x="4" y="39.15">MODEL_ID</text>
<rect class="w" y="45.7" width="221.5" height="22.85"/><text x="4" y="62">...</text>
<rect class="f" y="68.55" width="73.83" height="22.85"/><rect class="f" x="73.83" y="68.55" width="73.83" height="22.85"/><rect class="f" x="147.67" y="68.55" width="73.83" height="22.85"/><text x="4" y="84.85">&lt; 1</text>
<rect class="o" width="221.5" height="91.4"/>
</g>

<g id="CAT_TAXONOMY" transform="translate(37,3051.5)">
<rect class="h" width="130" height="22.85"/><text class="c" x="65" y="16.3">CAT_TAXONOMY</text>
<rect class="k" y="22.85" width="130" height="22.85"/><text x="4" y="39.15">ID</text>
<rect class="w" y="45.7" width="130" height="22.85"/><text x="4" y="62">...</text>
<rect class="f" y="68.55" width="43.33" height="22.85"/><rect class="f" x="43.33" y="68.55" width="43.33" height="22.85"/><rect class="f" x="86.67" y="68.55" width="43.33" height="22.85"/><text class="r" x="126" y="84.85">5 &gt;</text>
<rect class="o" width="130" height="91.4"/>
</g>

<g id="CAT_SOFTWARE" transform="translate(285,3121)">
<rect class="h" width="154" height="22.85"/><text class="c" x="77" y="16.3">CAT_SOFTWARE</text>
<rect class="k" y="22.85" width="154" height="22.85"/><text x="4" y="39.15">ID</text>
<rect class="w" y="45.7" width="154" height="22.85"/><text x="4" y="62">MANUFACTURER_ID</text>
<rect class="w" y="68.55" width="154" height="22.85"/><text x="4" y="84.85">TAXONOMY_ID</text>
<rect class="w" y="91.4" width="154" height="22.85"/><text x="4" y="107.7">...</text>
<rect class="f" y="114.25" width="51.33" height="22.85"/><rect class="f" x="51.33" y="114.25" width="51.33" height="22.85"/><rect class="f" x="102.67" y="114.25" width="51.33" height="22.85"/><text x="4" y="130.55">&lt; 2</text><text class="r" x="150" y="130.55">4 &gt;</text>
<rect class="o" width="154" height="137.1"/>
</g>

<g id="CAT_SW_VERSION_GROUP" transform="translate(537.5,3190.5)">
<rect class="h" width="209" height="22.85"/><text class="c" x="104.5" y="16.3">CAT_SW_VERSION_GROUP</text>
<rect class="k" y="22.85" width="209" height="22.85"/><text x="4" y="39.15">ID</text>
<rect class="w" y="45.7" width="209" height="22.85"/><text x="4" y="62">PRODUCT_ID</text>
<rect class="w" y="68.55" width="209" height="22.85"/><text x="4" y="84.85">...</text>
<rect class="f" y="91.4" width="69.67" height="22.85"/><rect class="f" x="69.67" y="91.4" width="69.67" height="22.85"/><rect class="f" x="139.33" y="91.4" width="69.67" height="22.85"/><text x="4" y="107.7">&lt; 1</text><text class="r" x="205" y="107.7">2 &gt;</text>
<rect class="o" width="209" height="114.25"/>
</g>

<g id="CAT_SOFTWARE_EDITION" transform="translate(543,3334.5)">
<rect class="h" width="197.5" height="22.85"/><text class="c" x="98.75" y="16.3">CAT_SOFTWARE_EDITION</text>
<rect class="k" y="22.85" width="197.5" height="22.85"/><text x="4" y="39.15">ID</text>
<rect class="w" y="45.7" width="197.5" height="22.85"/><text x="4" y="62">PRODUCT_ID</text>
<rect class="w" y="68.55" width="197.5" height="22.85"/><text x="4" y="84.85">TAXONOMY_ID</text>
<rect class="w" y="91.4" width="197.5" height="22.85"/><text x="4" y="107.7">...</text>
<rect class="f" y="114.25" width="65.83" height="22.85"/><rect class="f" x="65.83" y="114.25" width="65.83" height="22.85"/><rect class="f" x="131.67" y="114.25" width="65.83" height="22.85"/><text x="4" y="130.55">&lt; 2</text><text class="r" x="193.5" y="130.55">1 &gt;</text>
<rect class="o" width="197.5" height="137.1"/>
</g>

<g id="CAT_SOFTWARE_VERSION" transform="translate(836,3155.5)">
<rect class="h" width="205.5" height="22.85"/><text class="c" x="102.75" y="16.3">CAT_SOFTWARE_VERSION</text>
<rect class="k" y="22.85" width="205.5" height="22.85"/><text x="4" y="39.15">ID</text>
<rect class="w" y="45.7" width="205.5" height="22.85"/><text x="4" y="62">PRODUCT_ID</text>
<rect class="w" y="68.55" width="205.5" height="22.85"/><text x="4" y="84.85">VERSION_GROUP_ID</text>
<rect class="w" y="91.4" width="205.5" height="22.85"/><text x="4" y="107.7">...</text>
<rect class="f" y="114.25" width="68.5" height="22.85"/><rect class="f" x="68.5" y="114.25" width="68.5" height="22.85"/><rect class="f" x="137" y="114.25" width="68.5" height="22.85"/><text x="4" y="130.55">&lt; 2</text><text class="r" x="201.5" y="130.55">1 &gt;</text>
<rect class="o" width="205.5" height="137.1"/>
</g>

<g id="CAT_SUPPORT_STAGE" transform="translate(1165,2742.5)">
<rect class="h" width="178" height="22.85"/><text class="c" x="89" y="16.3">CAT_SUPPORT_STAGE</text>
<rect class="k" y="22.85" width="178" height="22.85"/><text x="4" y="39.15">ID</text>
<rect class="w" y="45.7" width="178" height="22.85"/><text x="4" y="62">SUPPORT_POLICY_ID</text>
<rect class="w" y="68.55" width="178" height="22.85"/><text x="4" y="84.85">...</text>
<rect class="f" y="91.4" width="59.33" height="22.85"/><rect class="f" x="59.33" y="91.4" width="59.33" height="22.85"/><rect class="f" x="118.67" y="91.4" width="59.33" height="22.85"/><text x="4" y="107.7">&lt; 1</text><text class="r" x="174" y="107.7">1 &gt;</text>
<rect class="o" width="178" height="114.25"/>
</g>

<g id="CAT_SW_REL_SUPP_STAGE" transform="translate(1445,2754)">
<rect class="h" width="213.5" height="22.85"/><text class="c" x="106.75" y="16.3">CAT_SW_REL_SUPP_STAGE</text>
<rect class="k" y="22.85" width="213.5" height="22.85"/><text x="4" y="39.15">ID</text>
<rect class="w" y="45.7" width="213.5" height="22.85"/><text x="4" y="62">RELEASE_ID</text>
<rect class="w" y="68.55" width="213.5" height="22.85"/><text x="4" y="84.85">SUPPORT_STAGE_ID</text>
<rect class="w" y="91.4" width="213.5" height="22.85"/><text x="4" y="107.7">...</text>
<rect class="f" y="114.25" width="71.17" height="22.85"/><rect class="f" x="71.17" y="114.25" width="71.17" height="22.85"/><rect class="f" x="142.33" y="114.25" width="71.17" height="22.85"/><text x="4" y="130.55">&lt; 2</text>
<rect class="o" width="213.5" height="137.1"/>
</g>

<g id="CAT_SOFTWARE_LIFECYCLE" transform="translate(1441,2957)">
<rect class="h" width="222" height="22.85"/><text class="c" x="111" y="16.3">CAT_SOFTWARE_LIFECYCLE</text>
<rect class="k" y="22.85" width="222" height="22.85"/><text x="4" y="39.15">RELEASE_ID</text>
<rect class="l" y="45.7" width="222" height="22.85"/><text x="4" y="62">END_OF_LIFE</text>
<rect class="w" y="68.55" width="222" height="22.85"/><text x="4" y="84.85">...</text>
<rect class="f" y="91.4" width="74" height="22.85"/><rect class="f" x="74" y="91.4" width="74" height="22.85"/><rect class="f" x="148" y="91.4" width="74" height="22.85"/><text x="4" y="107.7">&lt; 1</text>
<rect class="o" width="222" height="114.25"/>
</g>

<g id="CAT_SOFTWARE_RELEASE" transform="translate(1149,3041)">
<rect class="h" width="210" height="22.85"/><text class="c" x="105" y="16.3">CAT_SOFTWARE_RELEASE</text>
<rect class="k" y="22.85" width="210" height="22.85"/><text x="4" y="39.15">ID</text>
<rect class="w" y="45.7" width="210" height="22.85"/><text x="4" y="62">MANUFACTURER_ID</text>
<rect class="w" y="68.55" width="210" height="22.85"/><text x="4" y="84.85">PRODUCT_ID</text>
<rect class="w" y="91.4" width="210" height="22.85"/><text x="4" y="107.7">EDITION_ID</text>
<rect class="w" y="114.25" width="210" height="22.85"/><text x="4" y="130.55">VERSION_GROUP_ID</text>
<rect class="w" y="137.1" width="210" height="22.85"/><text x="4" y="153.4">VERSION_ID</text>
<rect class="w" y="159.95" width="210" height="22.85"/><text x="4" y="176.25">...</text>
<rect class="f" y="182.8" width="70" height="22.85"/><rect class="f" x="70" y="182.8" width="70" height="22.85"/><rect class="f" x="140" y="182.8" width="70" height="22.85"/><text x="4" y="199.1">&lt; 5</text><text class="r" x="206" y="199.1">3 &gt;</text>
<rect class="o" width="210" height="205.65"/>
</g>

<g id="CAT_SW_REL_PLATFORM" transform="translate(1453,3099.5)">
<rect class="h" width="197.5" height="22.85"/><text class="c" x="98.75" y="16.3">CAT_SW_REL_PLATFORM</text>
<rect class="k" y="22.85" width="197.5" height="22.85"/><text x="4" y="39.15">ID</text>
<rect class="w" y="45.7" width="197.5" height="22.85"/><text x="4" y="62">RELEASE_ID</text>
<rect class="w" y="68.55" width="197.5" height="22.85"/><text x="4" y="84.85">...</text>
<rect class="f" y="91.4" width="65.83" height="22.85"/><rect class="f" x="65.83" y="91.4" width="65.83" height="22.85"/><rect class="f" x="131.67" y="91.4" width="65.83" height="22.85"/><text x="4" y="107.7">&lt; 1</text>
<rect class="o" width="197.5" height="114.25"/>
</g>

<text x="16" y="3510">Generated by SchemaSpy</text>
</svg>
